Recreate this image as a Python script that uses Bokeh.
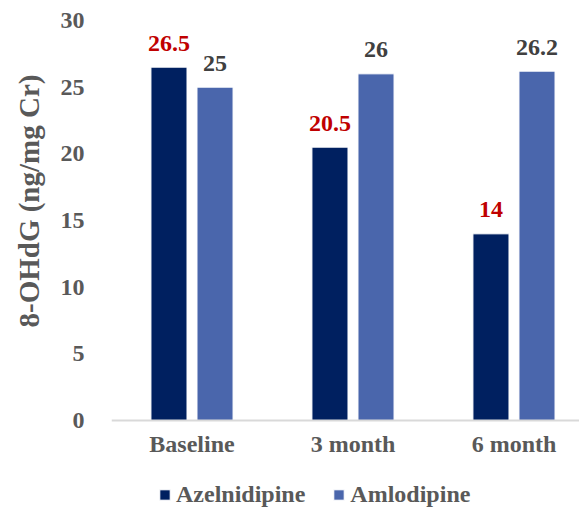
import numpy as np
from bokeh.plotting import figure
from bokeh.models import (Range1d, FixedTicker, Legend, LegendItem,
                          ColumnDataSource, Span, Title)
from bokeh.core.properties import value
from bokeh.embed import file_html
from bokeh.resources import INLINE

categories = ["Baseline", "3 month", "6 month"]
azelnidipine = [26.5, 20.5, 14]
amlodipine = [25, 26, 26.2]
y_ticks = [0, 5, 10, 15, 20, 25, 30]
y_label = "8-OHdG (ng/mg Cr)"
series_names = ["Azelnidipine", "Amlodipine"]

DARK = "#002060"
LIGHT = "#4A66AC"
FONT = "Liberation Serif"
GRAY = "#595959"

pos = np.arange(len(categories)) + 0.5
offset = 0.143
bw = 0.224

# frame spans from y=20 (value 30) to the bottom of the page; value 0 sits at y=420
p = figure(width=579, height=508, frame_width=468, frame_height=488,
           output_backend="svg", toolbar_location=None,
           x_range=Range1d(0, 2.907), y_range=Range1d(-6.6, 30),
           min_border_left=111, min_border_right=0, min_border_top=20, min_border_bottom=0)
p.outline_line_color = None
p.xgrid.visible = False
p.ygrid.visible = False
p.xaxis.visible = False

src_a = ColumnDataSource(dict(x=pos - offset, y=azelnidipine, t=[f"{v:g}" for v in azelnidipine]))
src_b = ColumnDataSource(dict(x=pos + offset, y=amlodipine, t=[f"{v:g}" for v in amlodipine]))
src_c = ColumnDataSource(dict(x=pos, y=[0] * len(categories), t=categories))

ra = p.vbar(x="x", top="y", bottom=0, width=bw, source=src_a, fill_color=DARK,
            line_color="white", line_width=1)
rb = p.vbar(x="x", top="y", bottom=0, width=bw, source=src_b, fill_color=LIGHT,
            line_color="white", line_width=1)

# category axis line
p.add_layout(Span(location=0, dimension="width", line_color="#D9D9D9", line_width=2))

# category labels
p.text(x="x", y="y", text="t", source=src_c, text_font=value(FONT), text_font_style="bold",
       text_font_size="24px", text_color=GRAY, text_align="center", text_baseline="middle",
       y_offset=23)

# value labels
p.text(x="x", y="y", text="t", source=src_a, text_font=value(FONT), text_font_style="bold",
       text_font_size="24px", text_color="#C00000", text_align="center", text_baseline="middle",
       y_offset=-24)
p.text(x="x", y="y", text="t", source=src_b, text_font=value(FONT), text_font_style="bold",
       text_font_size="24px", text_color="#404040", text_align="center", text_baseline="middle",
       y_offset=-24)

# y axis
ya = p.yaxis[0]
ya.ticker = FixedTicker(ticks=y_ticks)
ya.axis_line_color = None
ya.major_tick_line_color = None
ya.minor_tick_line_color = None
ya.major_label_text_font = FONT
ya.major_label_text_font_style = "bold"
ya.major_label_text_font_size = "24px"
ya.major_label_text_color = GRAY
ya.major_label_standoff = 21

ttl = Title(text=y_label, align="left", offset=181, standoff=22, vertical_align="top",
            text_font=FONT, text_font_style="bold", text_font_size="29px", text_color=GRAY)
p.add_layout(ttl, "left")

legend = Legend(items=[LegendItem(label=series_names[0], renderers=[ra]),
                       LegendItem(label=series_names[1], renderers=[rb])],
                orientation="horizontal", location=(47, 0),
                label_text_font=FONT, label_text_font_style="bold", label_text_font_size="24px",
                label_text_color=GRAY, glyph_width=13, glyph_height=13, label_standoff=5,
                spacing=27, border_line_color=None, background_fill_alpha=0, padding=0, margin=0)
p.add_layout(legend, "center")

open("out.html", "w").write(file_html(p, INLINE))
